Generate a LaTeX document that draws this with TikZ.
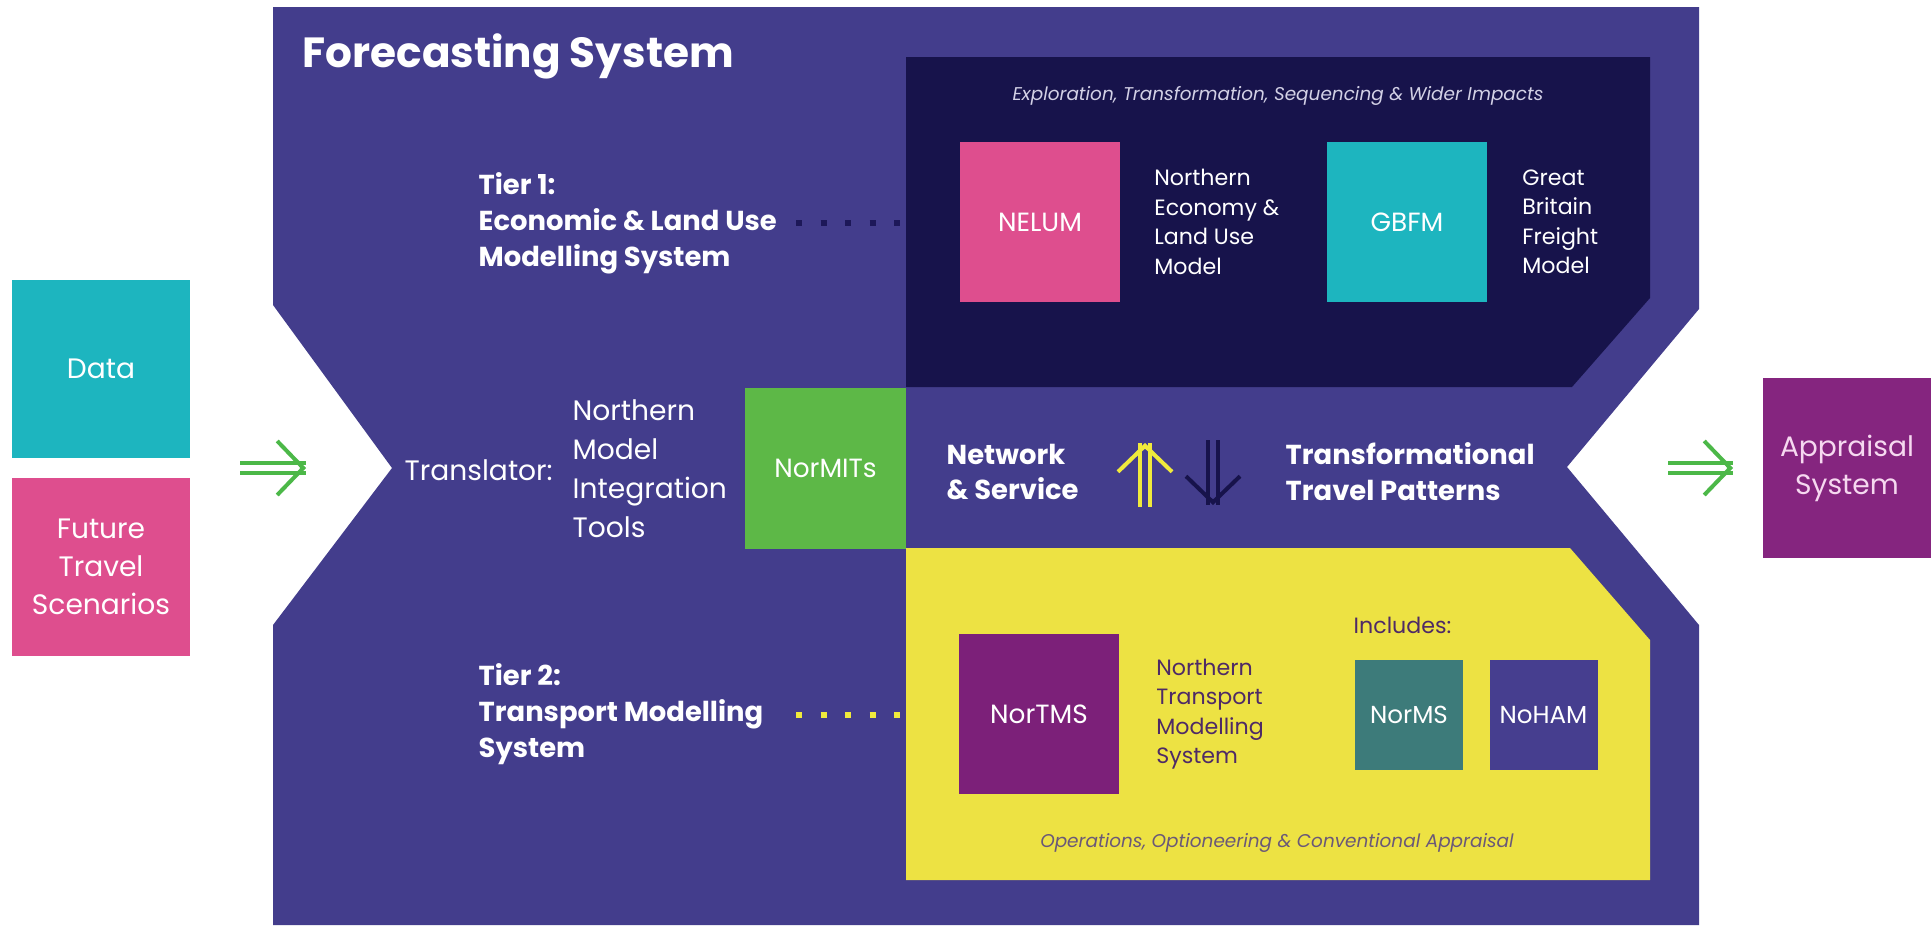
\documentclass[tikz,border=0pt]{standalone}
\usepackage{fontspec}
\setmainfont{Poppins}
\usetikzlibrary{positioning,calc,arrows.meta}
\definecolor{fcpurple}{HTML}{433D8C}
\definecolor{tiernavy}{HTML}{17134B}
\definecolor{nelumpink}{HTML}{DE4E8E}
\definecolor{gbfmteal}{HTML}{1DB5BF}
\definecolor{mitgreen}{HTML}{5DB847}
\definecolor{tieryellow}{HTML}{EDE243}
\definecolor{tmspurple}{HTML}{7C2079}
\definecolor{msteal}{HTML}{3D7B7A}
\definecolor{hampurple}{HTML}{463E8F}
\definecolor{appraisalbox}{HTML}{85257F}
\definecolor{appraisaltext}{HTML}{F6D8F0}
\definecolor{arrowgreen}{HTML}{4CB848}
\definecolor{arrowyellow}{HTML}{F0EA3C}
\definecolor{dotnavy}{HTML}{1D1858}
\definecolor{plumtext}{HTML}{4E2A66}
\definecolor{exploregrey}{HTML}{D3D1E6}
\definecolor{opsgrey}{HTML}{6A5878}
\tikzstyle{model} = [rectangle, inner sep=0pt, text=white, align=center, font=\fontsize{7.5}{9}\selectfont, minimum width=16mm, minimum height=16mm]
\tikzstyle{smallmodel} = [model, minimum width=10.8mm, minimum height=11mm, font=\fontsize{7}{8}\selectfont]
\tikzstyle{sidebox} = [model, minimum width=17.8mm, minimum height=17.8mm, font=\fontsize{8}{10.8}\selectfont]
\tikzstyle{tierlabel} = [anchor=west, align=left, text=white, inner sep=0pt, font=\bfseries\fontsize{7.8}{10.2}\selectfont]
\tikzstyle{desc} = [anchor=west, align=left, text=white, inner sep=0pt, font=\fontsize{6.3}{8.4}\selectfont]
\tikzstyle{remark} = [inner sep=0pt, font=\itshape\fontsize{5.25}{7}\selectfont]
\tikzstyle{tierdots} = [line width=0.6mm, dash pattern=on 0.6mm off 1.85mm]
\tikzstyle{shaft} = [line width=0.4mm, double distance=0.6mm]
\tikzstyle{head} = [line width=0.4mm, -{Straight Barb[length=2.6mm, width=5.4mm, line width=0.4mm]}]
\newcommand{\flowarrow}[4]{%
  \draw[shaft, draw=#1, double=#4] (#2) -- (#3);
  \draw[head, draw=#1] ($(#2)!0.97!(#3)$) -- (#3);}

\begin{document}
\begin{tikzpicture}[x=0.1mm, y=-0.1mm]
\useasboundingbox (0,0) rectangle (1931,925);
\fill[fcpurple] (273,7) -- (1699,7) -- (1699,309) -- (1567,467) -- (1699,625) -- (1699,925)
  -- (273,925) -- (273,625) -- (392,468) -- (273,305) -- cycle;
\fill[tiernavy] (906,57) -- (1650,57) -- (1650,298) -- (1572,387) -- (906,387) -- cycle;
\fill[tieryellow] (906,548) -- (1570,548) -- (1650,640) -- (1650,880) -- (906,880) -- cycle;

\node[anchor=base west, text=white, inner sep=0pt, font=\bfseries\fontsize{12}{14}\selectfont] (title) at (302,67) {Forecasting System};

\node[sidebox, fill=gbfmteal] (data) at (101,369) {Data};
\node[sidebox, fill=nelumpink] (future) at (101,567) {Future\\Travel\\Scenarios};
\node[sidebox, fill=appraisalbox, text=appraisaltext, minimum width=16.8mm, minimum height=18mm] (appraisal) at (1847,468) {Appraisal\\System};

\node[tierlabel] (tier1) at (478,223) {Tier 1:\\Economic \& Land Use\\Modelling System};
\node[tierlabel] (tier2) at (478,714) {Tier 2:\\Transport Modelling\\System};

\node[remark, text=exploregrey] (explore) at (1278,96) {Exploration, Transformation, Sequencing \& Wider Impacts};
\node[model, fill=nelumpink] (nelum) at (1040,222) {NELUM};
\node[desc, right=3.3mm of nelum] (nelumtxt) {Northern\\Economy \&\\Land Use\\Model};
\node[model, fill=gbfmteal] (gbfm) at (1407,222) {GBFM};
\node[desc, right=3.4mm of gbfm] (gbfmtxt) {Great\\Britain\\Freight\\Model};

\node[model, fill=mitgreen, minimum width=16.1mm, minimum height=16.1mm] (normits) at (825.5,468.5) {NorMITs};
\node[desc, font=\fontsize{8}{11.1}\selectfont] (translator) at (404,470) {Translator:};
\node[desc, font=\fontsize{8}{11.1}\selectfont] (nmit) at (572,469) {Northern\\Model\\Integration\\Tools};
\node[tierlabel] (network) at (946,472) {Network\\\& Service};
\node[tierlabel] (patterns) at (1285,472) {Transformational\\Travel Patterns};

\node[desc, text=plumtext] (includes) at (1353,625) {Includes:};
\node[model, fill=tmspurple] (nortms) at (1039,714) {NorTMS};
\node[desc, text=plumtext, right=3.6mm of nortms] (nortmstxt) {Northern\\Transport\\Modelling\\System};
\node[smallmodel, fill=msteal] (norms) at (1409,715) {NorMS};
\node[smallmodel, fill=hampurple] (noham) at (1543.5,715) {NoHAM};
\node[remark, text=opsgrey] (operations) at (1277,843) {Operations, Optioneering \& Conventional Appraisal};

\coordinate (t1a) at (796,223);
\coordinate (t1b) at (900,223);
\coordinate (t2a) at (796,715);
\coordinate (t2b) at (900,715);
\draw[tierdots, dotnavy] (t1a) -- (t1b);
\draw[tierdots, arrowyellow] (t2a) -- (t2b);

\coordinate (inA) at (240,468);
\coordinate (inB) at (306,468);
\coordinate (outA) at (1668,468);
\coordinate (outB) at (1733,468);
\coordinate (upA) at (1145,507);
\coordinate (upB) at (1145,443);
\coordinate (dnA) at (1213,440);
\coordinate (dnB) at (1213,505);
\flowarrow{arrowgreen}{inA}{inB}{white}
\flowarrow{arrowgreen}{outA}{outB}{white}
\flowarrow{arrowyellow}{upA}{upB}{fcpurple}
\flowarrow{tiernavy}{dnA}{dnB}{fcpurple}
\end{tikzpicture}
\end{document}
